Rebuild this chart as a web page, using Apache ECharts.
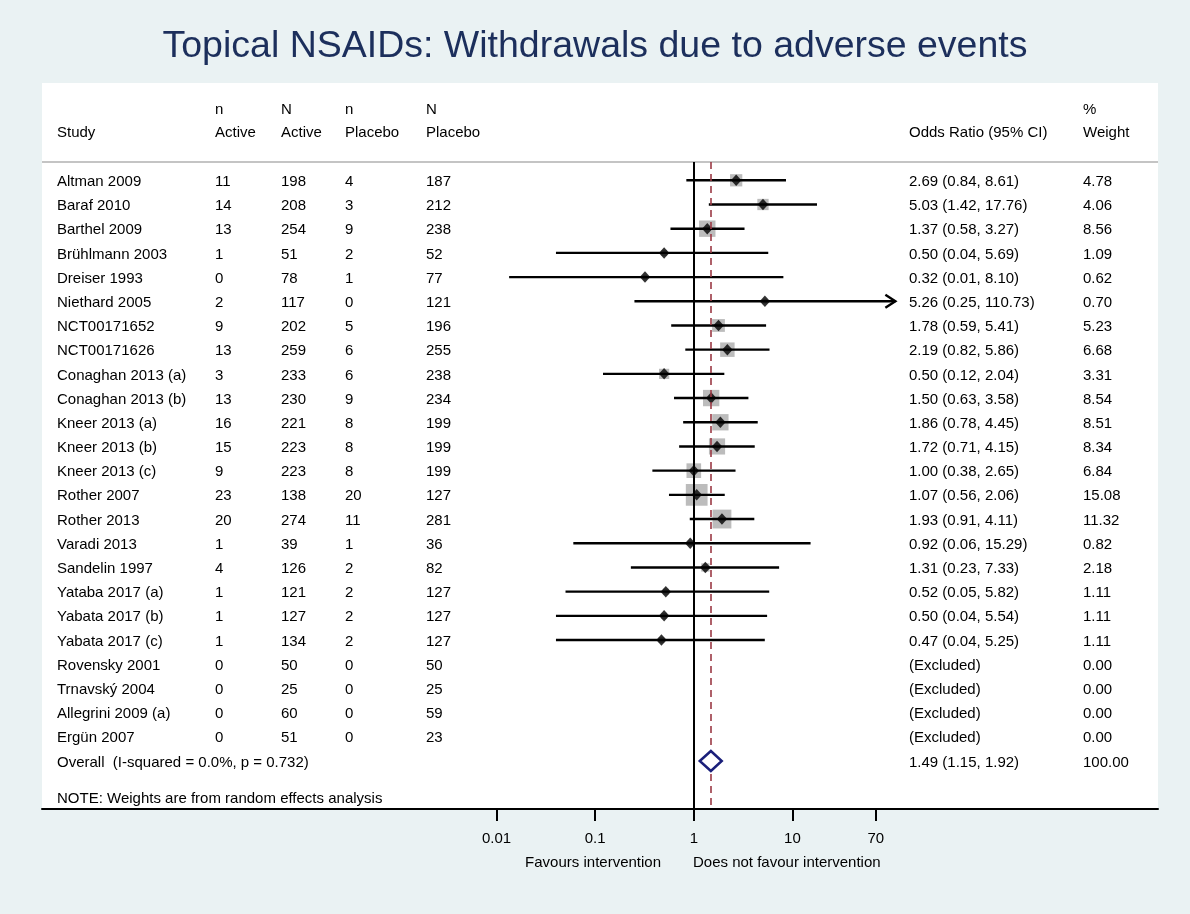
<!DOCTYPE html>
<html><head><meta charset="utf-8">
<script src="https://cdn.jsdelivr.net/npm/echarts@6/dist/echarts.min.js"></script>
<style>html,body{margin:0;padding:0;background:#eaf2f3}#c{width:1190px;height:914px}</style>
</head><body><div id="c"></div>
<script>
const studies = ['Altman 2009','Baraf 2010','Barthel 2009','Brühlmann 2003','Dreiser 1993','Niethard 2005','NCT00171652','NCT00171626','Conaghan 2013 (a)','Conaghan 2013 (b)','Kneer 2013 (a)','Kneer 2013 (b)','Kneer 2013 (c)','Rother 2007','Rother 2013','Varadi 2013','Sandelin 1997','Yataba 2017 (a)','Yabata 2017 (b)','Yabata 2017 (c)','Rovensky 2001','Trnavský 2004','Allegrini 2009 (a)','Ergün 2007'];
const nActive  = [11,14,13,1,0,2,9,13,3,13,16,15,9,23,20,1,4,1,1,1,0,0,0,0];
const NActive  = [198,208,254,51,78,117,202,259,233,230,221,223,223,138,274,39,126,121,127,134,50,25,60,51];
const nPlacebo = [4,3,9,2,1,0,5,6,6,9,8,8,8,20,11,1,2,2,2,2,0,0,0,0];
const NPlacebo = [187,212,238,52,77,121,196,255,238,234,199,199,199,127,281,36,82,127,127,127,50,25,59,23];
const oddsRatio = [2.69,5.03,1.37,0.50,0.32,5.26,1.78,2.19,0.50,1.50,1.86,1.72,1.00,1.07,1.93,0.92,1.31,0.52,0.50,0.47,null,null,null,null];
const ciLow  = [0.84,1.42,0.58,0.04,0.0134,0.25,0.59,0.82,0.12,0.63,0.78,0.71,0.38,0.56,0.91,0.06,0.23,0.05,0.04,0.04,null,null,null,null];
const ciHigh = [8.61,17.76,3.27,5.69,8.10,110.73,5.41,5.86,2.04,3.58,4.45,4.15,2.65,2.06,4.11,15.29,7.33,5.82,5.54,5.25,null,null,null,null];
const weights = [4.78,4.06,8.56,1.09,0.62,0.70,5.23,6.68,3.31,8.54,8.51,8.34,6.84,15.08,11.32,0.82,2.18,1.11,1.11,1.11,0.00,0.00,0.00,0.00];
const overallLabel = 'Overall  (I-squared = 0.0%, p = 0.732)';
const overallOR = 1.49, overallLow = 1.15, overallHigh = 1.92, overallWeight = 100.00;
const xTicks = [0.01, 0.1, 1, 10, 70];
const xTickLabels = ['0.01', '0.1', '1', '10', '70'];

const FONT = '"Liberation Sans", Arial, sans-serif';
const chart = echarts.init(document.getElementById('c'), null, {renderer: 'canvas'});
const nRows = studies.length;
const overallRow = nRows;

const boxData = [], pointData = [], ciData = [];
for (let i = 0; i < nRows; i++) {
  if (oddsRatio[i] == null) continue;
  boxData.push([oddsRatio[i], i, weights[i]]);
  pointData.push([oddsRatio[i], i]);
  ciData.push([ciLow[i], ciHigh[i], i]);
}
const tableData = [];
for (let i = 0; i < nRows; i++) tableData.push([1, i]);
tableData.push([1, overallRow]);

const colX = {study: 57, nA: 215, NA: 281, nP: 345, NP: 426, or: 909, w: 1083};
function fmtOR(i) {
  if (i === overallRow) return overallOR.toFixed(2) + ' (' + overallLow.toFixed(2) + ', ' + overallHigh.toFixed(2) + ')';
  if (oddsRatio[i] == null) return '(Excluded)';
  return oddsRatio[i].toFixed(2) + ' (' + ciLow[i].toFixed(2) + ', ' + ciHigh[i].toFixed(2) + ')';
}
function txt(x, y, s) {
  return {type: 'text', x: x, y: y, style: {text: s, fill: '#000', font: '15px ' + FONT, textVerticalAlign: 'middle', textAlign: 'left'}};
}
const xMaxTick = xTicks[xTicks.length - 1];

const option = {
  backgroundColor: '#eaf2f3',
  animation: false,
  title: {
    text: 'Topical NSAIDs: Withdrawals due to adverse events',
    left: 'center', top: 23,
    textStyle: {fontSize: 37.5, fontWeight: 'normal', color: '#1c2f5c', fontFamily: FONT}
  },
  graphic: [
    {type: 'rect', shape: {x: 42, y: 83, width: 1116, height: 726}, style: {fill: '#ffffff'}, z: -10, silent: true},
    {type: 'line', shape: {x1: 42, y1: 162, x2: 1158, y2: 162}, style: {stroke: '#c4c4c4', lineWidth: 2}, z: 1},
    txt(57, 133, 'Study'),
    txt(215, 110, 'n'), txt(215, 133, 'Active'),
    txt(281, 110, 'N'), txt(281, 133, 'Active'),
    txt(345, 110, 'n'), txt(345, 133, 'Placebo'),
    txt(426, 110, 'N'), txt(426, 133, 'Placebo'),
    txt(909, 133, 'Odds Ratio (95% CI)'),
    txt(1083, 110, '%'), txt(1083, 133, 'Weight'),
    txt(57, 799, 'NOTE: Weights are from random effects analysis'),
    {type: 'text', x: 661, y: 863, style: {text: 'Favours intervention', fill: '#000', font: '15px ' + FONT, textAlign: 'right', textVerticalAlign: 'middle'}},
    {type: 'text', x: 693, y: 863, style: {text: 'Does not favour intervention', fill: '#000', font: '15px ' + FONT, textAlign: 'left', textVerticalAlign: 'middle'}}
  ],
  grid: {left: 42, right: 32, top: 162, height: 647, containLabel: false},
  xAxis: {
    type: 'log', logBase: 10,
    min: Math.pow(10, -6.6105), max: Math.pow(10, 4.7079),
    axisLine: {show: true, onZero: false, lineStyle: {color: '#000', width: 2}},
    axisTick: {show: true, customValues: xTicks, length: 12, inside: false, lineStyle: {color: '#000', width: 2}},
    axisLabel: {show: true, customValues: xTicks, margin: 22, color: '#000', fontSize: 15, fontFamily: FONT,
      formatter: function (v) {
        let best = 0;
        for (let k = 1; k < xTicks.length; k++) if (Math.abs(Math.log10(v) - Math.log10(xTicks[k])) < Math.abs(Math.log10(v) - Math.log10(xTicks[best]))) best = k;
        return xTickLabels[best];
      }},
    splitLine: {show: false}
  },
  yAxis: {type: 'value', inverse: true, min: -0.756, max: 25.983, show: false},
  series: [
    {
      type: 'scatter', name: 'weight boxes', data: boxData, symbol: 'rect',
      symbolSize: function (v) { return 5.6 * Math.sqrt(v[2]); },
      itemStyle: {color: '#bcbcbc', opacity: 1}, silent: true, z: 2
    },
    {
      type: 'custom', name: 'ci', data: ciData, encode: {x: [0, 1], y: 2}, z: 3, silent: true,
      renderItem: function (params, api) {
        const lo = api.coord([api.value(0), api.value(2)]);
        const hi = api.coord([api.value(1), api.value(2)]);
        const children = [{type: 'line', shape: {x1: lo[0], y1: lo[1], x2: hi[0], y2: hi[1]}, style: {stroke: '#000', lineWidth: 2.4}}];
        if (api.value(1) > xMaxTick) {
          children.push({type: 'polyline', shape: {points: [[hi[0] - 10, hi[1] - 6.5], [hi[0], hi[1]], [hi[0] - 10, hi[1] + 6.5]]}, style: {stroke: '#000', lineWidth: 2.4, fill: null}});
        }
        return {type: 'group', children: children};
      }
    },
    {
      type: 'scatter', name: 'points', data: pointData, symbol: 'diamond', symbolSize: [10.5, 11.5],
      itemStyle: {color: '#000'}, silent: true, z: 4,
      markLine: {
        silent: true, symbol: ['none', 'none'], label: {show: false},
        data: [
          {xAxis: 1, lineStyle: {color: '#000', width: 2, type: 'solid'}},
          {xAxis: overallOR, lineStyle: {color: '#9b3a45', width: 1.6, type: [7, 5]}}
        ]
      }
    },
    {
      type: 'custom', name: 'overall', data: [[overallLow, overallOR, overallHigh, overallRow]], encode: {x: [0, 1, 2], y: 3}, z: 5, silent: true,
      renderItem: function (params, api) {
        const l = api.coord([api.value(0), api.value(3)]);
        const m = api.coord([api.value(1), api.value(3)]);
        const r = api.coord([api.value(2), api.value(3)]);
        return {type: 'polygon', shape: {points: [[l[0], l[1]], [m[0], m[1] - 10], [r[0], r[1]], [m[0], m[1] + 10]]},
          style: {stroke: '#1a1f7a', lineWidth: 2.5, fill: '#ffffff'}};
      }
    },
    {
      type: 'custom', name: 'table', data: tableData, encode: {x: 0, y: 1}, z: 6, silent: true,
      renderItem: function (params, api) {
        const i = api.value(1);
        const y = api.coord([1, i])[1] + 1.5;
        if (i === overallRow) {
          return {type: 'group', children: [txt(colX.study, y, overallLabel), txt(colX.or, y, fmtOR(i)), txt(colX.w, y, overallWeight.toFixed(2))]};
        }
        return {type: 'group', children: [
          txt(colX.study, y, studies[i]), txt(colX.nA, y, String(nActive[i])), txt(colX.NA, y, String(NActive[i])),
          txt(colX.nP, y, String(nPlacebo[i])), txt(colX.NP, y, String(NPlacebo[i])),
          txt(colX.or, y, fmtOR(i)), txt(colX.w, y, weights[i].toFixed(2))
        ]};
      }
    }
  ]
};
chart.setOption(option);
</script></body></html>
